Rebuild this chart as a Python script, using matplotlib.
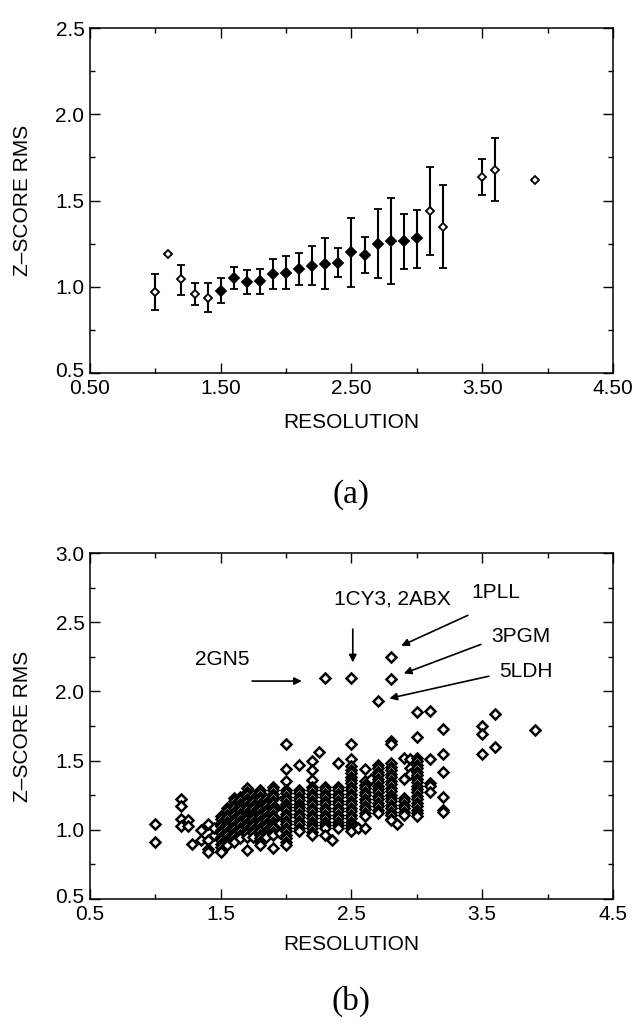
import matplotlib.pyplot as plt
import matplotlib.transforms as mtransforms
from matplotlib.ticker import FixedLocator, FormatStrFormatter

plt.rcParams['font.family'] = ['Liberation Sans', 'DejaVu Sans']

# ---- panel (a): binned z-score rms vs resolution ----
res_a = [1.0, 1.1, 1.2, 1.3, 1.4, 1.5, 1.6, 1.7, 1.8, 1.9, 2.0, 2.1, 2.2,
         2.3, 2.4, 2.5, 2.6, 2.7, 2.8, 2.9, 3.0, 3.1, 3.2, 3.5, 3.6, 3.9]
z_a = [0.967, 1.19, 1.044, 0.958, 0.937, 0.977, 1.052, 1.029, 1.034, 1.073,
       1.082, 1.102, 1.121, 1.130, 1.138, 1.201, 1.186, 1.249, 1.264, 1.264,
       1.280, 1.439, 1.349, 1.638, 1.678, 1.619]
z_a_hi = [1.073, 1.195, 1.128, 1.023, 1.019, 1.052, 1.117, 1.096, 1.105, 1.159,
          1.178, 1.195, 1.234, 1.280, 1.224, 1.397, 1.289, 1.450, 1.513, 1.421,
          1.446, 1.695, 1.590, 1.743, 1.862, 1.624]
z_a_lo = [0.864, 1.185, 0.954, 0.895, 0.851, 0.904, 0.985, 0.960, 0.960, 0.985,
          0.985, 1.008, 1.008, 0.985, 1.054, 0.998, 1.077, 1.048, 1.015, 1.102,
          1.111, 1.182, 1.109, 1.533, 1.496, 1.614]
well_sampled = [False, False, False, False, False, True, True, True, True, True,
                True, True, True, True, True, True, True, True, True, True,
                True, False, False, False, False, False]

# ---- panel (b): every structure, one list of z-scores per resolution ----
res_cols = [1.0, 1.2, 1.25, 1.28, 1.35, 1.4, 1.45, 1.5, 1.55, 1.6, 1.65, 1.7,
            1.75, 1.8, 1.85, 1.9, 1.95, 2.0, 2.1, 2.2, 2.25, 2.3, 2.35, 2.4,
            2.5, 2.55, 2.6, 2.65, 2.7, 2.8, 2.85, 2.9, 2.95, 3.0, 3.1, 3.2,
            3.5, 3.6, 3.9]
z_cols = [
    [1.04, 0.91],
    [1.22, 1.17, 1.08, 1.03],
    [1.07, 1.03],
    [0.90],
    [1.00, 0.93],
    [1.04, 0.93, 0.86, 0.84],
    [0.96, 1.01],
    [1.10, 1.075, 1.05, 1.025, 1.00, 0.975, 0.95, 0.925, 0.90, 0.875, 0.85, 0.84],
    [1.16, 1.135, 1.11, 1.085, 1.06, 1.035, 1.01, 0.985, 0.96, 0.935, 0.91, 0.89],
    [1.23, 1.205, 1.18, 1.155, 1.13, 1.105, 1.08, 1.055, 1.03, 1.005, 0.98, 0.955,
     0.93, 0.91],
    [1.24, 1.215, 1.19, 1.165, 1.14, 1.115, 1.09, 1.065, 1.04, 1.015, 0.99, 0.965,
     0.94],
    [1.30, 1.275, 1.25, 1.225, 1.20, 1.175, 1.15, 1.125, 1.10, 1.075, 1.05, 1.025,
     1.00, 0.975, 0.95, 0.855],
    [1.25, 1.225, 1.20, 1.175, 1.15, 1.125, 1.10, 1.075, 1.05, 1.025, 1.00, 0.975,
     0.95],
    [1.29, 1.265, 1.24, 1.215, 1.19, 1.165, 1.14, 1.115, 1.09, 1.065, 1.04, 1.015,
     0.99, 0.965, 0.94, 0.915, 0.89],
    [1.22, 1.195, 1.17, 1.145, 1.12, 1.095, 1.07, 1.045, 1.02, 0.995, 0.97, 0.95],
    [1.31, 1.285, 1.26, 1.235, 1.21, 1.185, 1.16, 1.135, 1.11, 1.085, 1.06, 1.035,
     1.01, 0.985, 0.96, 0.87],
    [1.20, 1.12, 1.05, 0.98],
    [1.62, 1.44, 1.35, 1.29, 1.265, 1.24, 1.215, 1.19, 1.165, 1.14, 1.115, 1.09,
     1.065, 1.04, 1.015, 0.99, 0.965, 0.94, 0.915, 0.89],
    [1.47, 1.29, 1.265, 1.24, 1.215, 1.19, 1.165, 1.14, 1.115, 1.09, 1.065, 1.04,
     1.015, 0.99],
    [1.50, 1.43, 1.36, 1.31, 1.285, 1.26, 1.235, 1.21, 1.185, 1.16, 1.135, 1.11,
     1.085, 1.06, 1.035, 1.01, 0.985, 0.96],
    [1.56],
    [2.10, 1.31, 1.285, 1.26, 1.235, 1.21, 1.185, 1.16, 1.135, 1.11, 1.085, 1.06,
     1.035, 1.01, 0.96],
    [0.93],
    [1.48, 1.31, 1.285, 1.26, 1.235, 1.21, 1.185, 1.16, 1.135, 1.11, 1.085, 1.06,
     1.035, 1.01],
    [2.10, 1.62, 1.51, 1.46, 1.435, 1.41, 1.385, 1.36, 1.335, 1.31, 1.285, 1.26,
     1.235, 1.21, 1.185, 1.16, 1.135, 1.11, 1.085, 1.06, 1.035, 1.01, 0.99],
    [1.01],
    [1.44, 1.35, 1.325, 1.30, 1.275, 1.25, 1.225, 1.20, 1.175, 1.15, 1.125, 1.10,
     1.01],
    [1.37],
    [1.93, 1.47, 1.445, 1.42, 1.395, 1.37, 1.345, 1.32, 1.295, 1.27, 1.245, 1.22,
     1.195, 1.17, 1.145, 1.12],
    [2.25, 2.09, 1.645, 1.62, 1.48, 1.455, 1.43, 1.405, 1.38, 1.355, 1.33, 1.305,
     1.28, 1.255, 1.23, 1.205, 1.18, 1.155, 1.13, 1.105, 1.08, 1.07],
    [1.04],
    [1.52, 1.37, 1.23, 1.205, 1.18, 1.155, 1.13, 1.105],
    [1.51, 1.45, 1.40],
    [1.85, 1.67, 1.52, 1.495, 1.47, 1.445, 1.42, 1.395, 1.37, 1.345, 1.32, 1.295,
     1.27, 1.245, 1.22, 1.195, 1.17, 1.145, 1.12, 1.10],
    [1.86, 1.51, 1.34, 1.32, 1.27],
    [1.73, 1.55, 1.42, 1.24, 1.145, 1.13],
    [1.75, 1.69, 1.55],
    [1.84, 1.60],
    [1.72],
]

x_ticks = [0.5, 1.5, 2.5, 3.5, 4.5]
x_minor = [1.0, 2.0, 3.0, 4.0]

FS = 15

fig = plt.figure(figsize=(6.39, 10.27), dpi=100)
ax1 = fig.add_axes([0.1408, 0.6368, 0.8185, 0.3359])
ax2 = fig.add_axes([0.1408, 0.1246, 0.8185, 0.3369])


def style_axes(ax, yticks, xfmt):
    ax.set_xlim(x_ticks[0], x_ticks[-1])
    ax.set_ylim(yticks[0], yticks[-1])
    ax.xaxis.set_major_locator(FixedLocator(x_ticks))
    ax.xaxis.set_minor_locator(FixedLocator(x_minor))
    ax.yaxis.set_major_locator(FixedLocator(yticks))
    ax.yaxis.set_minor_locator(FixedLocator([v + 0.25 for v in yticks[:-1]]))
    ax.xaxis.set_major_formatter(FormatStrFormatter(xfmt))
    ax.yaxis.set_major_formatter(FormatStrFormatter('%.1f'))
    ax.tick_params(which='both', direction='in', top=True, right=True,
                   labelsize=FS, pad=4, width=1.0)
    ax.tick_params(which='major', length=7)
    ax.tick_params(which='minor', length=3.5)
    for s in ax.spines.values():
        s.set_linewidth(1.1)
    # lift the bottom y label a little so it clears the corner x label
    lab = ax.yaxis.get_major_ticks()[0].label1
    lab.set_transform(lab.get_transform() +
                      mtransforms.ScaledTranslation(0, 4 / 100, fig.dpi_scale_trans))


# panel (a)
for flag, face, ms in [(False, 'white', 4.2), (True, 'black', 5.2)]:
    idx = [i for i, f in enumerate(well_sampled) if f == flag]
    xs = [res_a[i] for i in idx]
    ys = [z_a[i] for i in idx]
    err = [[z_a[i] - z_a_lo[i] for i in idx], [z_a_hi[i] - z_a[i] for i in idx]]
    ax1.errorbar(xs, ys, yerr=err, fmt='D', color='black', mfc=face, mec='black',
                 ms=ms, mew=1.3, elinewidth=1.5, capsize=3, capthick=1.5)
style_axes(ax1, [0.5, 1.0, 1.5, 2.0, 2.5], '%.2f')

# panel (b)
res_b = [x for x, col in zip(res_cols, z_cols) for _ in col]
z_b = [z for col in z_cols for z in col]
ax2.plot(res_b, z_b, 'D', mfc='white', mec='black', ms=4.6, mew=1.8, ls='none')
style_axes(ax2, [0.5, 1.0, 1.5, 2.0, 2.5, 3.0], '%.1f')

arrow = dict(arrowstyle='-|>', color='black', lw=1.2, mutation_scale=11,
             shrinkA=0, shrinkB=0)
ax2.text(1.30, 2.23, '2GN5', fontsize=FS, va='center')
ax2.annotate('', xy=(2.12, 2.075), xytext=(1.74, 2.075), arrowprops=arrow)
ax2.text(2.37, 2.667, '1CY3, 2ABX', fontsize=FS, va='center')
ax2.annotate('', xy=(2.51, 2.21), xytext=(2.51, 2.45), arrowprops=arrow)
ax2.text(3.42, 2.712, '1PLL', fontsize=FS, va='center')
ax2.annotate('', xy=(2.88, 2.33), xytext=(3.39, 2.55), arrowprops=arrow)
ax2.text(3.566, 2.40, '3PGM', fontsize=FS, va='center')
ax2.annotate('', xy=(2.90, 2.13), xytext=(3.49, 2.34), arrowprops=arrow)
ax2.text(3.63, 2.145, '5LDH', fontsize=FS, va='center')
ax2.annotate('', xy=(2.79, 1.95), xytext=(3.55, 2.11), arrowprops=arrow)

# axis titles and panel letters
W, H = 639.0, 1027.0
for yc in (200.5, 726.0):
    fig.text(23 / W, 1 - yc / H, 'Z\u2013SCORE RMS', fontsize=FS, rotation=90,
             ha='center', va='center')
for yc in (422.0, 944.0):
    fig.text(351.5 / W, 1 - yc / H, 'RESOLUTION', fontsize=FS,
             ha='center', va='center')
fig.text(351.5 / W, 1 - 495 / H, '(a)', fontsize=24, family='Liberation Serif',
         ha='center', va='center')
fig.text(351.5 / W, 1 - 1001 / H, '(b)', fontsize=24, family='Liberation Serif',
         ha='center', va='center')

fig.savefig('out.png', dpi=100)
